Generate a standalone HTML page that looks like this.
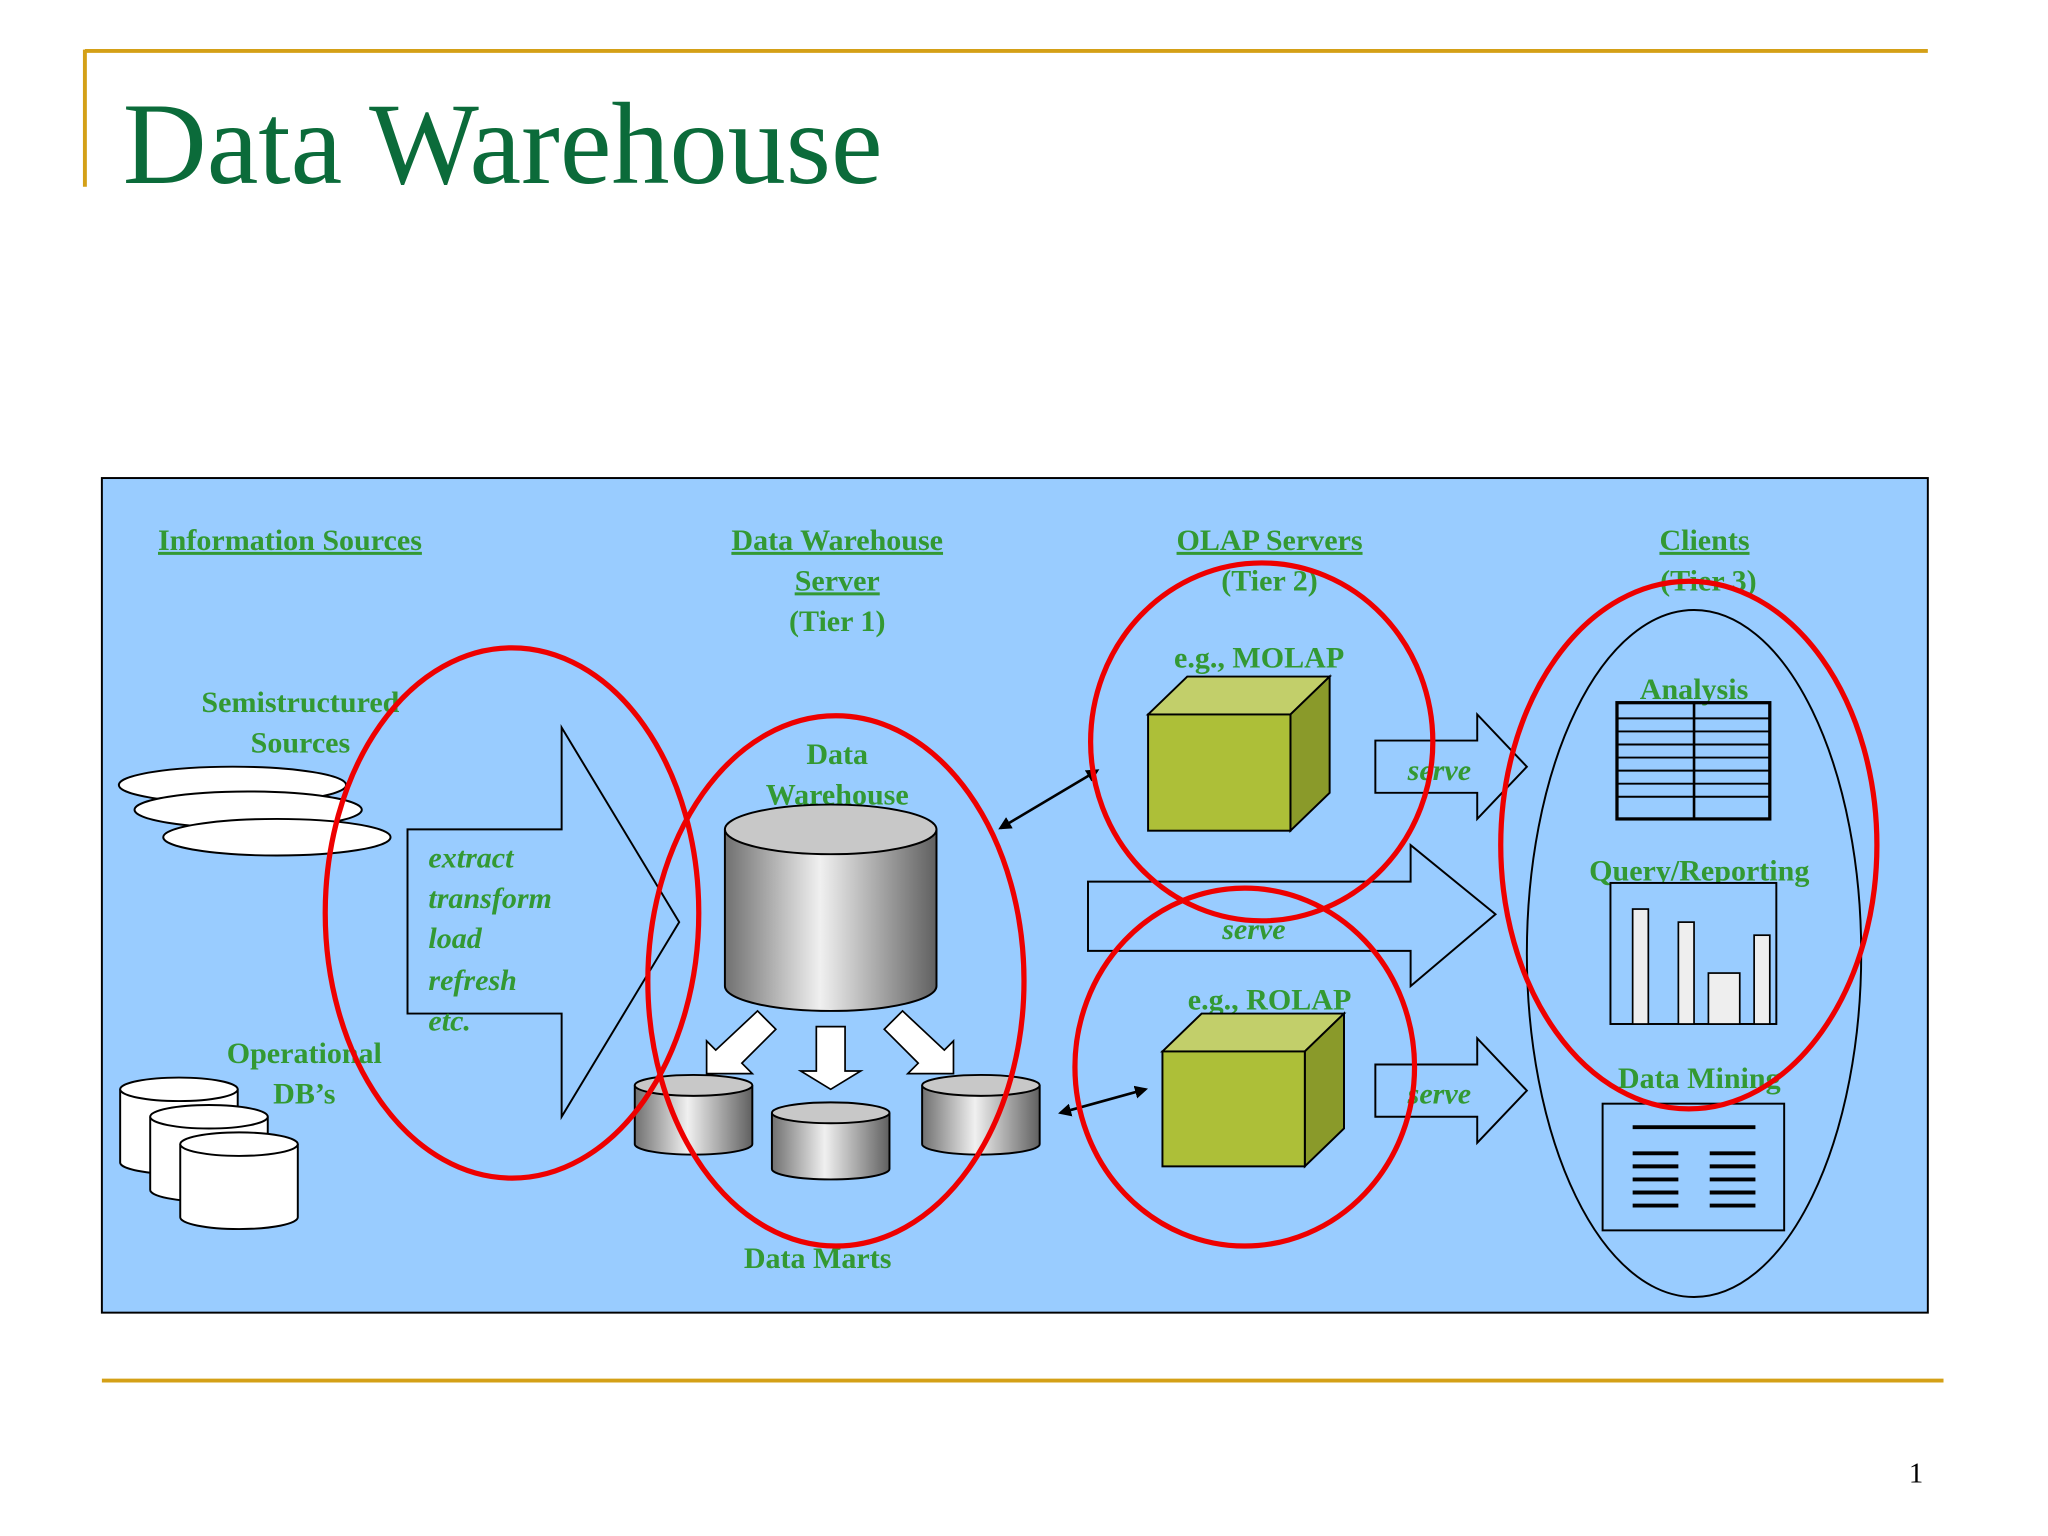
<!DOCTYPE html>
<html><head><meta charset="utf-8"><style>html,body{margin:0;padding:0;background:#fff}svg{display:block}</style></head>
<body>
<svg width="2048" height="1536" viewBox="0 0 1568 1176" xmlns="http://www.w3.org/2000/svg" font-family="Liberation Serif, serif">
<defs>
<linearGradient id="cyl" x1="0" x2="1" y1="0" y2="0">
<stop offset="0" stop-color="#707070"/><stop offset="0.45" stop-color="#f0f0f0"/><stop offset="1" stop-color="#606060"/>
</linearGradient>
<marker id="ah" markerWidth="10" markerHeight="10" refX="8" refY="5" orient="auto-start-reverse" markerUnits="userSpaceOnUse"><path d="M0,0 L10,5 L0,10 z" fill="#000"/></marker>
</defs>
<line x1="65" y1="39" x2="1476" y2="39" stroke="#d4a017" stroke-width="3"/>
<line x1="65" y1="38" x2="65" y2="143" stroke="#d4a017" stroke-width="3"/>
<text x="94" y="140" font-size="89" fill="#0b6b3a">Data Warehouse</text>
<rect x="78" y="366" width="1398" height="639" fill="#99ccff" stroke="#000" stroke-width="1.5"/>
<line x1="78" y1="1057" x2="1488" y2="1057" stroke="#d4a017" stroke-width="3"/>
<text x="1467" y="1135" font-size="22" fill="#000" text-anchor="middle">1</text>

<g font-size="23" font-weight="bold" fill="#339933" text-anchor="middle">
<text x="222" y="421" text-decoration="underline">Information Sources</text>
<text x="641" y="421" text-decoration="underline">Data Warehouse </text>
<text x="641" y="452" text-decoration="underline">Server</text>
<text x="641" y="483">(Tier 1)</text>
<text x="972" y="421" text-decoration="underline">OLAP Servers</text>
<text x="972" y="452">(Tier 2)</text>
<text x="1305" y="421" text-decoration="underline">Clients</text>
<text x="1308" y="452">(Tier 3)</text>
<text x="230" y="545">Semistructured</text>
<text x="230" y="576">Sources</text>
<text x="233" y="814">Operational</text>
<text x="233" y="845">DB’s</text>
<text x="641" y="585">Data</text>
<text x="641" y="616">Warehouse</text>
<text x="626" y="971">Data Marts</text>
<text x="964" y="511">e.g., MOLAP</text>
<text x="972" y="773">e.g., ROLAP</text>
<text x="1297" y="535">Analysis</text>
<text x="1301" y="674">Query/Reporting</text>
<text x="1301" y="833">Data Mining</text>
</g>

<g fill="#fff" stroke="#000" stroke-width="1.5">
<ellipse cx="178" cy="601" rx="87" ry="14"/>
<ellipse cx="190" cy="620" rx="87" ry="14"/>
<ellipse cx="212" cy="641" rx="87" ry="14"/>
</g>
<g fill="#fff" stroke="#000" stroke-width="1.5">
<path d="M92,834 v56 a45,9 0 0 0 90,0 v-56"/><ellipse cx="137" cy="834" rx="45" ry="9"/>
<path d="M115,855 v56 a45,9 0 0 0 90,0 v-56"/><ellipse cx="160" cy="855" rx="45" ry="9"/>
<path d="M138,876 v56 a45,9 0 0 0 90,0 v-56"/><ellipse cx="183" cy="876" rx="45" ry="9"/>
</g>
<path d="M312,635 H430 V557 L520,706 L430,855 V776 H312 Z" fill="#99ccff" stroke="#000" stroke-width="1.5"/>
<g font-size="23" font-weight="bold" font-style="italic" fill="#339933">
<text x="328" y="664">extract</text><text x="328" y="695">transform</text><text x="328" y="726">load</text><text x="328" y="758">refresh</text><text x="328" y="789">etc.</text>
</g>
<path d="M555,635 V755 A81,19 0 0 0 717,755 V635" fill="url(#cyl)" stroke="#000" stroke-width="1.5"/>
<ellipse cx="636" cy="635" rx="81" ry="19" fill="#c8c8c8" stroke="#000" stroke-width="1.5"/>
<g stroke="#000" stroke-width="1.5">
<path d="M486,831 V876 A45,8 0 0 0 576,876 V831" fill="url(#cyl)"/><ellipse cx="531" cy="831" rx="45" ry="8" fill="#c8c8c8"/>
<path d="M591,852 V895 A45,8 0 0 0 681,895 V852" fill="url(#cyl)"/><ellipse cx="636" cy="852" rx="45" ry="8" fill="#c8c8c8"/>
<path d="M706,831 V876 A45,8 0 0 0 796,876 V831" fill="url(#cyl)"/><ellipse cx="751" cy="831" rx="45" ry="8" fill="#c8c8c8"/>
</g>
<g fill="#fff" stroke="#000" stroke-width="1.3">
<path d="M625,786 H647 V820 H659 L636,834 L613,820 H625 Z"/>
<path d="M580,774 L594,788 L568,814 L576,822 L541,822 L541,797 L548,804 Z"/>
<path d="M691,774 L677,788 L703,814 L695,822 L730,822 L730,797 L723,804 Z"/>
</g>
<line x1="766" y1="634" x2="840" y2="590" stroke="#000" stroke-width="2" marker-start="url(#ah)" marker-end="url(#ah)"/>
<line x1="812" y1="852" x2="877" y2="834" stroke="#000" stroke-width="2" marker-start="url(#ah)" marker-end="url(#ah)"/>
<g stroke="#000" stroke-width="1.5">
<path d="M879,547 L909,518 H1018 L988,547 Z" fill="#c2cf6a"/>
<path d="M988,547 L1018,518 V607 L988,636 Z" fill="#8a9a2a"/>
<rect x="879" y="547" width="109" height="89" fill="#adbf38"/>
<path d="M890,805 L920,776 H1029 L999,805 Z" fill="#c2cf6a"/>
<path d="M999,805 L1029,776 V864 L999,893 Z" fill="#8a9a2a"/>
<rect x="890" y="805" width="109" height="88" fill="#adbf38"/>
</g>
<g fill="#99ccff" stroke="#000" stroke-width="1.5">
<path d="M1053,567 H1131 V547 L1169,587 L1131,627 V607 H1053 Z"/>
<path d="M833,675 H1080 V647 L1145,700 L1080,755 V728 H833 Z"/>
<path d="M1053,815 H1131 V795 L1169,835 L1131,875 V855 H1053 Z"/>
</g>
<g font-size="23" font-weight="bold" font-style="italic" fill="#339933" text-anchor="middle">
<text x="1102" y="597">serve</text><text x="960" y="719">serve</text><text x="1102" y="845">serve</text>
</g>
<ellipse cx="1297" cy="730" rx="128" ry="263" fill="none" stroke="#000" stroke-width="1.5"/>
<g stroke="#000" fill="none">
<rect x="1238" y="538" width="117" height="89" stroke-width="2.5"/>
<line x1="1297" y1="538" x2="1297" y2="627" stroke-width="2"/>
<g stroke-width="1.5">
<line x1="1238" y1="550" x2="1355" y2="550"/><line x1="1238" y1="560" x2="1355" y2="560"/><line x1="1238" y1="570" x2="1355" y2="570"/><line x1="1238" y1="580" x2="1355" y2="580"/><line x1="1238" y1="590" x2="1355" y2="590"/><line x1="1238" y1="600" x2="1355" y2="600"/><line x1="1238" y1="610" x2="1355" y2="610"/>
</g>
</g>
<rect x="1233" y="676" width="127" height="108" fill="#99ccff" stroke="#000" stroke-width="1.5"/>
<g fill="#eee" stroke="#000" stroke-width="1.3">
<rect x="1250" y="696" width="12" height="88"/><rect x="1285" y="706" width="12" height="78"/><rect x="1308" y="745" width="24" height="39"/><rect x="1343" y="716" width="12" height="68"/>
</g>
<rect x="1227" y="845" width="139" height="97" fill="#99ccff" stroke="#000" stroke-width="1.5"/>
<g stroke="#000" stroke-width="3">
<line x1="1250" y1="863" x2="1344" y2="863"/>
<line x1="1250" y1="883" x2="1285" y2="883"/><line x1="1250" y1="893" x2="1285" y2="893"/><line x1="1250" y1="903" x2="1285" y2="903"/><line x1="1250" y1="913" x2="1285" y2="913"/><line x1="1250" y1="923" x2="1285" y2="923"/>
<line x1="1309" y1="883" x2="1344" y2="883"/><line x1="1309" y1="893" x2="1344" y2="893"/><line x1="1309" y1="903" x2="1344" y2="903"/><line x1="1309" y1="913" x2="1344" y2="913"/><line x1="1309" y1="923" x2="1344" y2="923"/>
</g>
<g fill="none" stroke="#ee0000" stroke-width="4">
<ellipse cx="392" cy="699" rx="143" ry="203"/>
<ellipse cx="640" cy="751" rx="144" ry="203"/>
<ellipse cx="966" cy="568" rx="131" ry="137"/>
<ellipse cx="953" cy="817" rx="130" ry="137"/>
<ellipse cx="1293" cy="647" rx="144" ry="202"/>
</g>
</svg>
</body></html>
